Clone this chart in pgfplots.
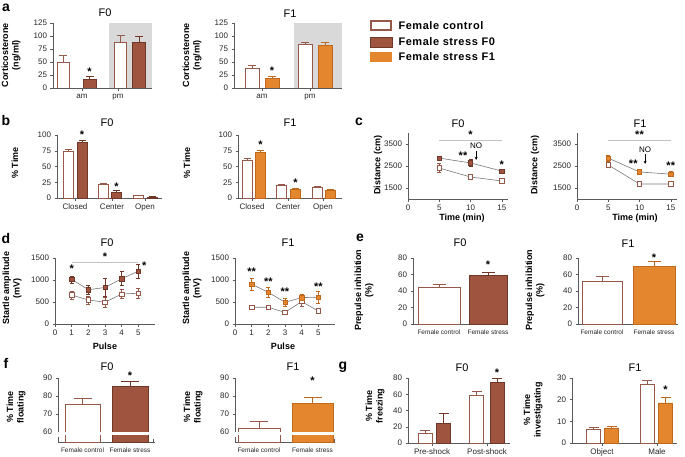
\documentclass[border=0pt]{standalone}
\usepackage{fontspec}
\setmainfont{Liberation Sans}
\newfontfamily\legfont[LetterSpace=5]{Liberation Sans}
\usepackage{pgfplots}
\pgfplotsset{compat=1.18}
\usetikzlibrary{arrows.meta}

\definecolor{ctrl}{RGB}{150,88,72}
\definecolor{brownF0}{RGB}{158,84,62}
\definecolor{brownD}{RGB}{110,55,40}
\definecolor{orangeF1}{RGB}{228,134,46}
\definecolor{orangeD}{RGB}{190,105,30}
\definecolor{bggray}{RGB}{217,217,217}
\definecolor{axc}{RGB}{90,90,90}
\definecolor{lgray}{RGB}{120,120,120}
\definecolor{sigl}{RGB}{195,195,195}

\tikzset{
  ttl/.style={font=\fontsize{11}{12}\selectfont},
  ylab/.style={font=\bfseries\fontsize{9}{10.5}\selectfont, rotate=90, align=center},
  plet/.style={font=\bfseries\fontsize{14}{14}\selectfont},
  star/.style={font=\bfseries\fontsize{11}{11}\selectfont, inner sep=0pt},
}

\pgfplotsset{
  base/.style={scale only axis, anchor=south west, axis lines*=left, clip=false,
    axis line style={draw=axc, line width=0.6pt},
    every tick/.style={draw=axc, line width=0.5pt},
    tick align=outside, major tick length=2.5pt,
    tick label style={font=\fontsize{8}{9.5}\selectfont, text=black!85},
    /pgf/number format/assume math mode=true,
    /pgf/number format/1000 sep={},
    scaled y ticks=false},
  ctrlbar/.style={ybar, bar shift=0pt, fill=white, draw=ctrl, line width=0.8pt,
    error bars/.cd, y dir=plus, y explicit,
    error bar style={draw=ctrl, line width=0.6pt},
    error mark options={draw=ctrl, rotate=90, mark size=#1, line width=0.6pt}},
  f0bar/.style={ybar, bar shift=0pt, fill=brownF0, draw=brownD, line width=0.6pt,
    error bars/.cd, y dir=plus, y explicit,
    error bar style={draw=brownD, line width=0.6pt},
    error mark options={draw=brownD, rotate=90, mark size=#1, line width=0.6pt}},
  f1bar/.style={ybar, bar shift=0pt, fill=orangeF1, draw=orangeD, line width=0.6pt,
    error bars/.cd, y dir=plus, y explicit,
    error bar style={draw=orangeD, line width=0.6pt},
    error mark options={draw=orangeD, rotate=90, mark size=#1, line width=0.6pt}},
  ctrlline/.style={draw=lgray, line width=0.6pt, mark=square*, mark size=2.2pt,
    mark options={draw=ctrl, fill=white, line width=0.7pt},
    error bars/.cd, y dir=both, y explicit,
    error bar style={draw=ctrl, line width=0.5pt},
    error mark options={draw=ctrl, rotate=90, mark size=2pt, line width=0.5pt}},
  f0line/.style={draw=lgray, line width=0.6pt, mark=square*, mark size=2.2pt,
    mark options={draw=brownD, fill=brownF0, line width=0.5pt},
    error bars/.cd, y dir=both, y explicit,
    error bar style={draw=brownD, line width=0.5pt},
    error mark options={draw=brownD, rotate=90, mark size=2pt, line width=0.5pt}},
  f1line/.style={draw=lgray, line width=0.6pt, mark=square*, mark size=2.2pt,
    mark options={draw=orangeD, fill=orangeF1, line width=0.5pt},
    error bars/.cd, y dir=both, y explicit,
    error bar style={draw=orangeD, line width=0.5pt},
    error mark options={draw=orangeD, rotate=90, mark size=2pt, line width=0.5pt}},
}

\begin{document}
\begin{tikzpicture}

% ---------- a: corticosterone
\begin{axis}[base, axis on top, at={(53pt,-88pt)}, width=99pt, height=65pt,
  xmin=0, xmax=99, ymin=0, ymax=125, ytick={0,25,...,125},
  xtick={29,65}, xticklabels={am,pm}]
\fill[bggray] (axis cs:56,0) rectangle (axis cs:99,125);
\addplot[bar width=12, ctrlbar=4pt] coordinates {(10,50) +- (0,12) (67.5,88) +- (0,14)};
\addplot[bar width=13, f0bar=4pt] coordinates {(36.5,17) +- (0,5) (86,87) +- (0,12)};
\node[star] at (axis cs:36.5,31) {*};
\end{axis}

\begin{axis}[base, axis on top, at={(234pt,-88pt)}, width=108pt, height=65pt,
  xmin=0, xmax=108, ymin=0, ymax=125, ytick={0,25,...,125},
  xtick={28,76}, xticklabels={am,pm}]
\fill[bggray] (axis cs:60,0) rectangle (axis cs:108,125);
\addplot[bar width=14, ctrlbar=4pt] coordinates {(18,37) +- (0,6) (71,84) +- (0,4)};
\addplot[bar width=14, f1bar=4pt] coordinates {(38,18) +- (0,4) (91,82) +- (0,6)};
\node[star] at (axis cs:38,33) {*};
\end{axis}

% ---------- b: % time
\begin{axis}[base, at={(57pt,-198pt)}, width=105pt, height=63pt,
  xmin=0, xmax=105, ymin=0, ymax=100, ytick={0,25,...,100},
  xtick={18,55,88}, xticklabels={Closed,Center,Open}]
\addplot[bar width=10, ctrlbar=3.5pt] coordinates {(11,74) +- (0,4) (46,21) +- (0,3) (81,4) +- (0,1)};
\addplot[bar width=10, f0bar=3.5pt] coordinates {(25,88) +- (0,4) (59.5,9) +- (0,3) (95,1.5) +- (0,0.5)};
\node[star] at (axis cs:25,101) {*};
\node[star] at (axis cs:59.5,18) {*};
\end{axis}

\begin{axis}[base, at={(238pt,-198pt)}, width=104pt, height=63pt,
  xmin=0, xmax=104, ymin=0, ymax=100, ytick={0,25,...,100},
  xtick={14,50,85}, xticklabels={Closed,Center,Open}]
\addplot[bar width=10, ctrlbar=3.5pt] coordinates {(9,60) +- (0,3) (43.5,20) +- (0,1.5) (79,17) +- (0,1)};
\addplot[bar width=10, f1bar=3.5pt] coordinates {(22.5,73) +- (0,2) (57.5,14) +- (0,1) (92.5,13) +- (0,1.5)};
\node[star] at (axis cs:22.5,85) {*};
\node[star] at (axis cs:57.5,24) {*};
\end{axis}

% ---------- c: distance
\begin{axis}[base, at={(408pt,-199pt)}, width=100pt, height=66pt,
  xmin=0, xmax=16, ymin=1000, ymax=4000, xtick={0,5,10,15}, ytick={1500,2500,3500}]
\addplot[ctrlline] coordinates {(5,2410) +- (0,200) (10,2000) +- (0,80) (15,1820) +- (0,110)};
\addplot[f0line] coordinates {(5,2860) +- (0,90) (10,2640) +- (0,150) (15,2270) +- (0,90)};
\draw[sigl, line width=0.8pt] (axis cs:5,3650) -- (axis cs:15,3650);
\node[star] at (axis cs:10,3900) {*};
\node[star] at (axis cs:8.8,2950) {**};
\node[star] at (axis cs:15,2580) {*};
\node[font=\fontsize{8}{9}\selectfont, inner sep=0pt] at (axis cs:10.9,3400) {NO};
\draw[-{Stealth[length=3pt,width=3pt]}, line width=0.6pt] (axis cs:10.9,3200) -- (axis cs:10.9,2780);
\end{axis}

\begin{axis}[base, at={(577pt,-199pt)}, width=100pt, height=66pt,
  xmin=0, xmax=16, ymin=1000, ymax=4000, xtick={0,5,10,15}, ytick={1500,2500,3500}]
\addplot[ctrlline] coordinates {(5,2550) +- (0,80) (10,1680) +- (0,60) (15,1680) +- (0,60)};
\addplot[f1line] coordinates {(5,2860) +- (0,150) (10,2230) +- (0,100) (15,2130) +- (0,110)};
\draw[sigl, line width=0.8pt] (axis cs:5,3650) -- (axis cs:15,3650);
\node[star] at (axis cs:10,3900) {**};
\node[star] at (axis cs:9.0,2600) {**};
\node[star] at (axis cs:15,2500) {**};
\node[font=\fontsize{8}{9}\selectfont, inner sep=0pt] at (axis cs:10.9,3250) {NO};
\draw[-{Stealth[length=3pt,width=3pt]}, line width=0.6pt] (axis cs:10.9,3050) -- (axis cs:10.9,2600);
\end{axis}

% ---------- d: startle
\begin{axis}[base, at={(55pt,-324pt)}, width=100pt, height=66pt,
  xmin=0, xmax=6, ymin=0, ymax=1500, xtick={0,...,5}, ytick={0,500,1000,1500}]
\addplot[ctrlline] coordinates {(1,660) +- (0,90) (2,545) +- (0,90) (3,495) +- (0,110) (4,680) +- (0,100) (5,700) +- (0,110)};
\addplot[f0line] coordinates {(1,1015) +- (0,80) (2,780) +- (0,110) (3,830) +- (0,200) (4,1030) +- (0,160) (5,1200) +- (0,160)};
\draw[sigl, line width=0.8pt] (axis cs:1,1410) -- (axis cs:5,1410);
\node[star] at (axis cs:3,1530) {*};
\node[star] at (axis cs:1,1260) {*};
\node[star] at (axis cs:5.35,1330) {*};
\end{axis}

\begin{axis}[base, at={(235pt,-324pt)}, width=100pt, height=66pt,
  xmin=0, xmax=6, ymin=0, ymax=1500, xtick={0,...,5}, ytick={0,500,1000,1500}]
\addplot[ctrlline] coordinates {(1,380) +- (0,40) (2,380) +- (0,40) (3,265) +- (0,30) (4,510) +- (0,110) (5,295) +- (0,40)};
\addplot[f1line] coordinates {(1,904) +- (0,130) (2,720) +- (0,120) (3,493) +- (0,100) (4,600) +- (0,70) (5,610) +- (0,130)};
\node[star] at (axis cs:1,1180) {**};
\node[star] at (axis cs:2,955) {**};
\node[star] at (axis cs:3,727) {**};
\node[star] at (axis cs:5,840) {**};
\end{axis}

% ---------- e: prepulse inhibition
\begin{axis}[base, at={(413pt,-324pt)}, width=95pt, height=66pt,
  xmin=0, xmax=95, ymin=0, ymax=80, ytick={0,20,...,80},
  xtick={26,75}, xticklabels={Female control,Female stress},
  xticklabel style={font=\fontsize{6.5}{7}\selectfont}, major x tick style={draw=none}]
\addplot[bar width=42, ctrlbar=6.5pt] coordinates {(26,44) +- (0,4)};
\addplot[bar width=38, f0bar=6.5pt] coordinates {(75,59) +- (0,4)};
\node[star] at (axis cs:75,72) {*};
\end{axis}

\begin{axis}[base, at={(578pt,-324pt)}, width=100pt, height=66pt,
  xmin=0, xmax=100, ymin=0, ymax=80, ytick={0,20,...,80},
  xtick={24,76}, xticklabels={Female control,Female stress},
  xticklabel style={font=\fontsize{6.5}{7}\selectfont}, major x tick style={draw=none}]
\addplot[bar width=40, ctrlbar=6.5pt] coordinates {(24,52) +- (0,5.5)};
\addplot[bar width=42, f1bar=6.5pt] coordinates {(76,70.5) +- (0,5)};
\node[star] at (axis cs:76,80.5) {*};
\end{axis}

% ---------- f: floating (broken axis)
\begin{axis}[base, clip=true, clip mode=individual, at={(58pt,-442pt)}, width=97pt, height=64pt,
  xmin=0, xmax=97, ymin=54.44, ymax=90, ytick={60,70,80,90},
  xtick={24.5,72}, xticklabels={Female control,Female stress},
  xticklabel style={font=\fontsize{6.5}{7}\selectfont}, major x tick style={draw=none}]
\addplot[bar width=35, ctrlbar=9pt] coordinates {(24.5,75.5) +- (0,3.5)};
\addplot[bar width=36, f0bar=9pt] coordinates {(72,85.2) +- (0,2.8)};
\fill[white] (axis cs:-3,57.4) rectangle (axis cs:3,59.75);
\fill[white] (axis cs:3,58.3) rectangle (axis cs:95,59.9);
\draw[axc, line width=0.5pt] (axis cs:95,54.44) -- (axis cs:95,56.2);
\node[star] at (axis cs:72,91) {*};
\end{axis}

\begin{axis}[base, clip=true, clip mode=individual, at={(235pt,-442pt)}, width=100pt, height=64pt,
  xmin=0, xmax=100, ymin=54.44, ymax=90, ytick={60,70,80,90},
  xtick={24,77.5}, xticklabels={Female control,Female stress},
  xticklabel style={font=\fontsize{6.5}{7}\selectfont}, major x tick style={draw=none}]
\addplot[bar width=42, ctrlbar=9pt] coordinates {(24,62) +- (0,4)};
\addplot[bar width=41, f1bar=9pt] coordinates {(77.5,76) +- (0,3.5)};
\fill[white] (axis cs:-3,57.4) rectangle (axis cs:2.5,59.75);
\fill[white] (axis cs:2.5,58.3) rectangle (axis cs:99,59.9);
\draw[axc, line width=0.5pt] (axis cs:99,54.44) -- (axis cs:99,56.2);
\node[star] at (axis cs:77.5,88.5) {*};
\end{axis}

% ---------- g: freezing / investigating
\begin{axis}[base, at={(408pt,-443pt)}, width=102pt, height=65pt,
  xmin=0, xmax=102, ymin=0, ymax=80, ytick={0,20,...,80},
  xtick={24,79}, xticklabels={Pre-shock,Post-shock}]
\addplot[bar width=14, ctrlbar=5pt] coordinates {(17,12.3) +- (0,3.5) (68.5,59) +- (0,5)};
\addplot[bar width=14, f0bar=5pt] coordinates {(35.5,24.5) +- (0,12.5) (89,75) +- (0,5)};
\node[star] at (axis cs:89,86) {*};
\end{axis}

\begin{axis}[base, at={(572pt,-443pt)}, width=105pt, height=65pt,
  xmin=0, xmax=105, ymin=0, ymax=30, ytick={0,10,20,30},
  xtick={30,85}, xticklabels={Object,Male}]
\addplot[bar width=14, ctrlbar=5pt] coordinates {(21.5,6.5) +- (0,0.8) (75,27) +- (0,2)};
\addplot[bar width=14, f1bar=5pt] coordinates {(39.5,7) +- (0,0.6) (93.5,18.5) +- (0,2.5)};
\node[star] at (axis cs:93.5,24.5) {*};
\end{axis}

% ---------- labels, titles, legend (pixel coordinates, y downwards)
\begin{scope}[x=1pt, y=-1pt]
\node[plet] at (6,8) {a};
\node[plet] at (6,120) {b};
\node[plet] at (359,122) {c};
\node[plet] at (6,238) {d};
\node[plet] at (360,238) {e};
\node[plet] at (6,363) {f};
\node[plet] at (343,367) {g};

\node[ttl] at (105,13) {F0};   \node[ttl] at (290,14) {F1};
\node[ttl] at (107,123) {F0};  \node[ttl] at (290,123) {F1};
\node[ttl] at (458,124) {F0};  \node[ttl] at (640,124) {F1};
\node[ttl] at (107,243) {F0};  \node[ttl] at (288,243) {F1};
\node[ttl] at (460,243) {F0};  \node[ttl] at (628,244) {F1};
\node[ttl] at (107,367) {F0};  \node[ttl] at (293,367) {F1};
\node[ttl] at (462,368) {F0};  \node[ttl] at (635,368) {F1};

\node[ylab] at (11,55) {Corticosterone\\(ng/ml)};
\node[ylab] at (192,55) {Corticosterone\\(ng/ml)};
\node[ylab] at (15,163) {\% Time};
\node[ylab] at (187,163) {\% Time};
\node[ylab] at (378,165) {Distance (cm)};
\node[ylab] at (535,165) {Distance (cm)};
\node[ylab] at (12,288) {Startle amplitude\\(mV)};
\node[ylab] at (192,288) {Startle amplitude\\(mV)};
\node[ylab] at (364,290) {Prepulse inhibition\\(\%)};
\node[ylab] at (535,290) {Prepulse inhibition\\(\%)};
\node[ylab] at (16,407) {\% Time\\floating};
\node[ylab] at (193,407) {\% Time\\floating};
\node[ylab] at (375,406) {\% Time\\freezing};
\node[ylab] at (533,410) {\% Time\\investigating};

\node[font=\bfseries\fontsize{9}{10}\selectfont] at (462,218) {Time (min)};
\node[font=\bfseries\fontsize{9}{10}\selectfont] at (635,218) {Time (min)};
\node[font=\bfseries\fontsize{9}{10}\selectfont] at (105,346) {Pulse};
\node[font=\bfseries\fontsize{9}{10}\selectfont] at (283,346) {Pulse};

% legend
\draw[ctrl, line width=1.3pt, fill=white] (371,21) rectangle (391,30);
\draw[brownD, line width=0.6pt, fill=brownF0] (370,37) rectangle (392,47);
\fill[orangeF1] (370,52) rectangle (392,62);
\node[anchor=west, font=\legfont\bfseries\fontsize{11}{12}\selectfont] at (395,25.5) {Female control};
\node[anchor=west, font=\legfont\bfseries\fontsize{11}{12}\selectfont] at (395,42) {Female stress F0};
\node[anchor=west, font=\legfont\bfseries\fontsize{11}{12}\selectfont] at (395,57) {Female stress F1};
\end{scope}

\pgfresetboundingbox
\path[use as bounding box] (0pt,0pt) rectangle (685pt,-456pt);
\end{tikzpicture}
\end{document}
